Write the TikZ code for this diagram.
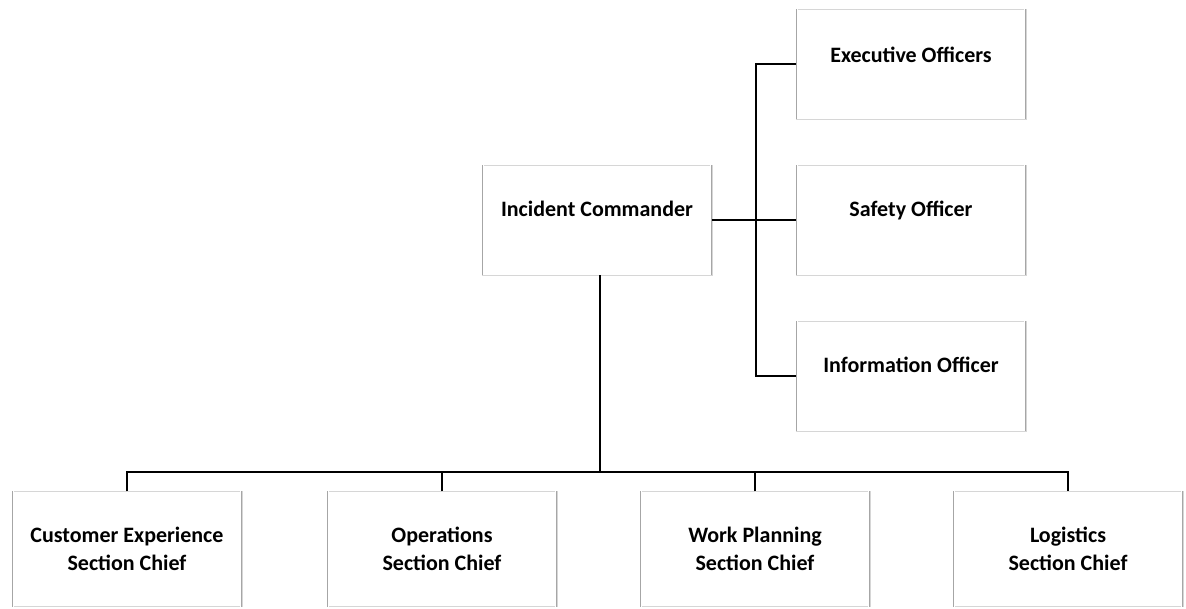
\documentclass[tikz,border=0pt]{standalone}
\usepackage{fontspec}
\setmainfont{Carlito}
\begin{document}
\begin{tikzpicture}[x=1pt,y=-1pt,
  orgbox/.style={rectangle, draw=gray!32, line width=0.4pt,
    minimum width=230pt, minimum height=110pt, inner sep=0pt},
  boxtext/.style={font=\bfseries\fontsize{22}{28}\selectfont, align=center},
  sideline/.style={draw=gray!70, line width=0.45pt, double=white, double distance=1.4pt},
  link/.style={draw=black, line width=1.1pt}]
\useasboundingbox (0,0) rectangle (1186,608);

% command post
\node[orgbox, label={[boxtext, yshift=11pt]center:Incident Commander}] (ic) at (597,220) {};

% command staff column
\node[orgbox, label={[boxtext, yshift=9pt]center:Executive Officers}] (exec) at (911,64) {};
\node[orgbox, label={[boxtext, yshift=10pt]center:Safety Officer}] (safe) at (911,220) {};
\node[orgbox, label={[boxtext, yshift=11pt]center:Information Officer}] (info) at (911,376) {};

% general staff row
\tikzset{chief/.style={orgbox, minimum height=115pt}}
\node[chief, label={[boxtext]center:Customer Experience\\Section Chief}] (cust) at (127,549) {};
\node[chief, label={[boxtext]center:Operations\\Section Chief}] (ops) at (442,549) {};
\node[chief, label={[boxtext]center:Work Planning\\Section Chief}] (work) at (755,549) {};
\node[chief, label={[boxtext]center:Logistics\\Section Chief}] (logi) at (1068,549) {};

% doubled side rules on every box
\foreach \b in {ic,exec,safe,info,cust,ops,work,logi}{
  \draw[sideline] ([xshift=1.5pt]\b.north west) -- ([xshift=1.5pt]\b.south west);
  \draw[sideline] ([xshift=-1.5pt]\b.north east) -- ([xshift=-1.5pt]\b.south east);
}

% junction points of the connectors
\coordinate (spine) at (756,220);
\coordinate (bar) at (600,472);

% staff connectors
\draw[link] (ic.east) -- (safe.west);
\draw[link] (exec.west) -- (exec.west -| spine) -- (info.west -| spine) -- (info.west);

% section connectors
\draw[link] (ic.south -| bar) -- (bar);
\draw[link] (cust.north) -- (cust.north |- bar) -- (logi.north |- bar) -- (logi.north);
\draw[link] (ops.north) -- (ops.north |- bar);
\draw[link] (work.north) -- (work.north |- bar);
\end{tikzpicture}
\end{document}
